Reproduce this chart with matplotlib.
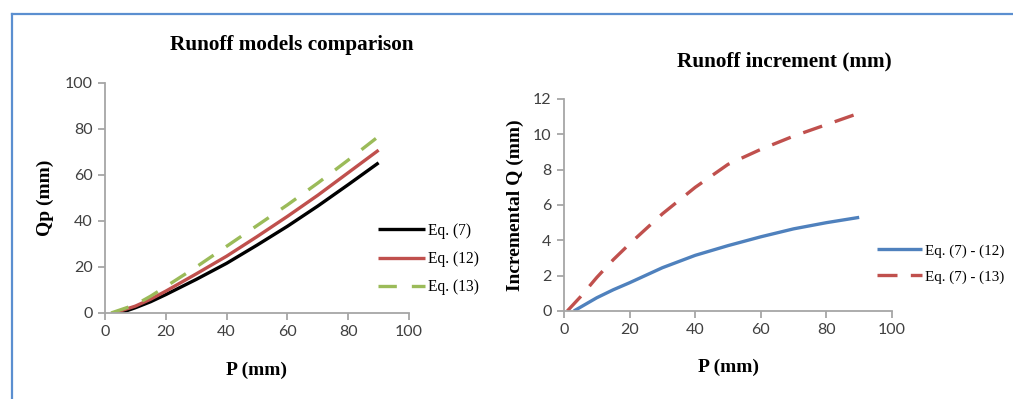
import numpy as np
import matplotlib
matplotlib.use("Agg")
import matplotlib.pyplot as plt
from matplotlib.lines import Line2D

# Left panel: runoff Qp (mm) vs P (mm)
p_eq7 = [5, 10, 15, 20, 30, 40, 50, 60, 70, 80, 90]
q_eq7 = [0, 2.3, 4.9, 8.0, 14.6, 21.6, 29.5, 37.7, 46.5, 55.8, 65.3]
p_eq12 = [3, 10, 15, 20, 30, 40, 50, 60, 70, 80, 90]
q_eq12 = [0, 3.0, 6.0, 9.5, 17.0, 24.7, 33.2, 42.0, 51.2, 61.0, 70.8]
p_eq13 = [2, 10, 15, 20, 30, 40, 50, 60, 70, 80, 90]
q_eq13 = [0, 3.6, 7.3, 11.5, 20.0, 29.0, 38.0, 47.0, 56.5, 66.5, 76.8]

# Right panel: increments
p_d12 = [3, 10, 15, 20, 30, 40, 50, 60, 70, 80, 90]
d12 = [0, 0.75, 1.2, 1.6, 2.45, 3.15, 3.7, 4.2, 4.65, 5.0, 5.3]
p_d13 = [1, 5, 10, 15, 20, 30, 40, 50, 60, 70, 80, 90]
d13 = [0, 0.8, 1.9, 2.9, 3.8, 5.5, 7.0, 8.3, 9.15, 9.9, 10.55, 11.2]

xticks = [0, 20, 40, 60, 80, 100]
yticks_left = [0, 20, 40, 60, 80, 100]
yticks_right = [0, 2, 4, 6, 8, 10, 12]

W, H = 1013, 399
fig = plt.figure(figsize=(W / 100, H / 100), dpi=100)

serif = "Liberation Serif"
tick_font = "Lato"
spine_col = "#A6A6A6"
tick_col = "#404040"


def fx(px):
    return px / W


def fy(py):
    return 1 - py / H


def style(ax, yticks):
    for s in ["top", "right"]:
        ax.spines[s].set_visible(False)
    for s in ["left", "bottom"]:
        ax.spines[s].set_color(spine_col)
        ax.spines[s].set_linewidth(1.3)
    ax.set_xlim(0, 100)
    ax.set_xticks(xticks)
    ax.set_ylim(yticks[0], yticks[-1])
    ax.set_yticks(yticks)
    ax.tick_params(direction="out", length=5, width=1.3, color=spine_col,
                   labelcolor=tick_col, labelsize=11.5, pad=4)
    for lab in ax.get_xticklabels() + ax.get_yticklabels():
        lab.set_fontfamily(tick_font)


def leg_kw(size):
    return dict(loc="center left", frameon=False, bbox_transform=fig.transFigure,
                prop={"family": serif, "size": size}, handlelength=3.0,
                handletextpad=0.2, labelspacing=0.8, borderaxespad=0, borderpad=0)


# left panel
ax1 = fig.add_axes([fx(105), fy(313), fx(409) - fx(105), fy(83) - fy(313)])
ax1.plot(p_eq7, q_eq7, color="black", lw=2.4, label="Eq. (7)", solid_capstyle="butt")
ax1.plot(p_eq12, q_eq12, color="#C0504D", lw=2.4, label="Eq. (12)", solid_capstyle="butt")
ax1.plot(p_eq13, q_eq13, color="#9BBB59", lw=2.4, label="Eq. (13)", dashes=(5.5, 4.5))
style(ax1, yticks_left)
ax1.legend(bbox_to_anchor=(fx(378), fy(259)), **leg_kw(11.2))

fig.text(fx(292), fy(45), "Runoff models comparison", ha="center", va="center",
         family=serif, weight="bold", fontsize=15.3)
fig.text(fx(45), fy(198), "Qp (mm)", ha="center", va="center", rotation=90,
         family=serif, weight="bold", fontsize=14)
fig.text(fx(257), fy(370), "P (mm)", ha="center", va="center",
         family=serif, weight="bold", fontsize=14)

# right panel
ax2 = fig.add_axes([fx(564), fy(311), fx(892) - fx(564), fy(99) - fy(311)])
ax2.plot(p_d12, d12, color="#4F81BD", lw=2.4, label="Eq. (7) - (12)", solid_capstyle="butt")
ax2.plot(p_d13, d13, color="#C0504D", lw=2.4, label="Eq. (7) - (13)", dashes=(6, 4))
style(ax2, yticks_right)
ax2.legend(bbox_to_anchor=(fx(877), fy(264)), **leg_kw(10.9))

fig.text(fx(784), fy(61), "Runoff increment (mm)", ha="center", va="center",
         family=serif, weight="bold", fontsize=15.3)
fig.text(fx(515), fy(205), "Incremental Q (mm)", ha="center", va="center", rotation=90,
         family=serif, weight="bold", fontsize=14)
fig.text(fx(728), fy(367), "P (mm)", ha="center", va="center",
         family=serif, weight="bold", fontsize=14)

# blue frame (left and top edges visible)
frame_col = "#5B8FD0"
fig.add_artist(Line2D([fx(12), fx(12)], [fy(14), 0], color=frame_col, lw=1.6,
                      transform=fig.transFigure))
fig.add_artist(Line2D([fx(12), 1], [fy(14), fy(14)], color=frame_col, lw=1.6,
                      transform=fig.transFigure))

fig.savefig("out.png", dpi=100)
